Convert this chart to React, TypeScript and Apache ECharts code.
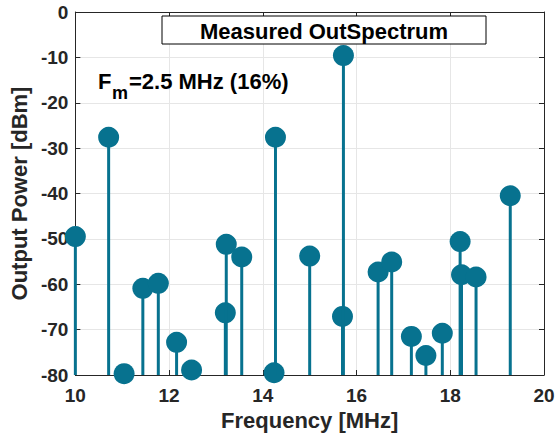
import React, { useEffect, useRef } from "react";
import * as echarts from "echarts";

// Measured output spectrum: tone frequencies [MHz] and their power [dBm]
const freqMHz = [
  10.0, 10.71, 11.04, 11.44, 11.77, 12.16, 12.48, 13.2, 13.22, 13.55, 14.24, 14.27,
  15.0, 15.7, 15.72, 16.46, 16.75, 17.17, 17.48, 17.83, 18.21, 18.24, 18.55, 19.28,
];
const powerDBm = [
  -49.5, -27.6, -79.7, -60.9, -59.8, -72.8, -78.9, -66.3, -51.2, -54.0, -79.5, -27.6,
  -53.8, -67.1, -9.6, -57.3, -55.1, -71.5, -75.7, -70.8, -50.6, -57.9, -58.4, -40.5,
];
const xTicks = [10, 12, 14, 16, 18, 20];
const yTicks = [-80, -70, -60, -50, -40, -30, -20, -10, 0];

const STEM = "#07728f";
const INK = "#262626";
const FONT = "'Liberation Sans', Arial, Helvetica, sans-serif";

export default function App() {
  const ref = useRef<HTMLDivElement>(null);

  useEffect(() => {
    if (!ref.current) return;
    const chart = echarts.init(ref.current, undefined, { renderer: "svg" });
    const yMin = yTicks[0];
    const yMax = yTicks[yTicks.length - 1];
    const xMin = xTicks[0];
    const xMax = xTicks[xTicks.length - 1];

    const tickCommon = {
      axisLine: { show: true, onZero: false, lineStyle: { color: INK, width: 1 } },
      axisTick: { show: true, inside: true, length: 5, lineStyle: { color: INK } },
    };

    chart.setOption({
      animation: false,
      backgroundColor: "#ffffff",
      textStyle: { fontFamily: FONT },
      grid: { left: 72, top: 12, width: 472, height: 363, containLabel: false },
      xAxis: [
        {
          type: "value",
          min: xMin,
          max: xMax,
          interval: 2,
          position: "bottom",
          name: "Frequency [MHz]",
          nameLocation: "middle",
          nameGap: 33,
          nameTextStyle: { color: INK, fontSize: 22, fontWeight: "bold", fontFamily: FONT },
          ...tickCommon,
          axisLabel: { color: INK, fontSize: 19, fontWeight: "bold", margin: 11, fontFamily: FONT },
          splitLine: { show: true, lineStyle: { color: "#e6e6e6", width: 1 } },
        },
        {
          type: "value",
          min: xMin,
          max: xMax,
          interval: 2,
          position: "top",
          ...tickCommon,
          axisLabel: { show: false },
          splitLine: { show: false },
        },
      ],
      yAxis: [
        {
          type: "value",
          min: yMin,
          max: yMax,
          interval: 10,
          position: "left",
          name: "Output Power [dBm]",
          nameLocation: "middle",
          nameGap: 36,
          nameTextStyle: { color: INK, fontSize: 22, fontWeight: "bold", fontFamily: FONT },
          ...tickCommon,
          axisLabel: { color: INK, fontSize: 19, fontWeight: "bold", margin: 7, fontFamily: FONT },
          splitLine: { show: true, lineStyle: { color: "#e6e6e6", width: 1 } },
        },
        {
          type: "value",
          min: yMin,
          max: yMax,
          interval: 10,
          position: "right",
          ...tickCommon,
          axisLabel: { show: false },
          splitLine: { show: false },
        },
      ],
      series: [
        {
          type: "custom",
          xAxisIndex: 0,
          yAxisIndex: 0,
          z: 10,
          clip: false,
          data: freqMHz.map((f, i) => [f, powerDBm[i]]),
          renderItem: (_params: any, api: any) => {
            const base = api.coord([api.value(0), yMin]);
            const head = api.coord([api.value(0), api.value(1)]);
            return {
              type: "group",
              children: [
                {
                  type: "line",
                  shape: { x1: base[0], y1: base[1], x2: head[0], y2: head[1] },
                  style: { stroke: STEM, lineWidth: 3 },
                },
                {
                  type: "circle",
                  shape: { cx: head[0], cy: head[1], r: 10.5 },
                  style: { fill: STEM },
                },
              ],
            };
          },
        },
      ],
      graphic: [
        {
          type: "rect",
          z: 20,
          shape: { x: 162, y: 16, width: 324, height: 28 },
          style: { fill: "#ffffff", stroke: "#000000", lineWidth: 1 },
        },
        {
          type: "text",
          z: 21,
          x: 324,
          y: 31,
          style: {
            text: "Measured OutSpectrum",
            fill: "#000000",
            font: `bold 22px ${FONT}`,
            textAlign: "center",
            textVerticalAlign: "middle",
          },
        },
        {
          type: "text",
          z: 21,
          x: 98,
          y: 81,
          style: {
            text: "F",
            fill: "#000000",
            font: `bold 22px ${FONT}`,
            textAlign: "left",
            textVerticalAlign: "middle",
          },
        },
        {
          type: "text",
          z: 21,
          x: 112,
          y: 93,
          style: {
            text: "m",
            fill: "#000000",
            font: `bold 18px ${FONT}`,
            textAlign: "left",
            textVerticalAlign: "middle",
          },
        },
        {
          type: "text",
          z: 21,
          x: 129,
          y: 81,
          style: {
            text: "=2.5 MHz (16%)",
            fill: "#000000",
            font: `bold 22px ${FONT}`,
            textAlign: "left",
            textVerticalAlign: "middle",
          },
        },
      ],
    });

    return () => chart.dispose();
  }, []);

  return (
    <div
      ref={ref}
      style={{ position: "absolute", left: 0, top: 0, width: 560, height: 440 }}
    />
  );
}
